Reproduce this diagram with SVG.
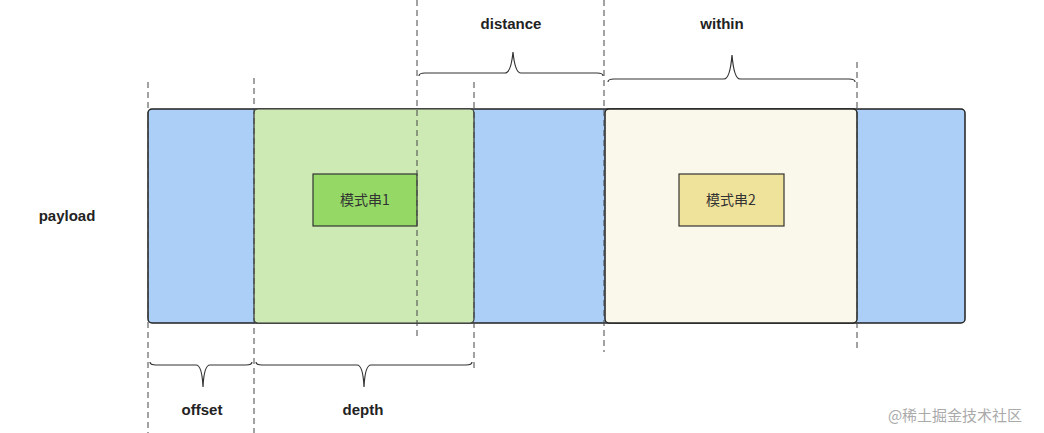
<svg xmlns="http://www.w3.org/2000/svg" width="1044" height="433" viewBox="0 0 1044 433">
<style>
.lbl{font-family:"Liberation Sans",Arial,sans-serif;font-size:15px;font-weight:bold;fill:#222;text-anchor:middle}
.cn{font-family:"Noto Sans CJK SC",sans-serif;font-size:14px;fill:#333;text-anchor:middle}
.dash{stroke:#444;stroke-width:1;stroke-dasharray:6,4;fill:none}
.brace{stroke:#333;stroke-width:1.2;fill:none}
</style>
<rect width="1044" height="433" fill="#fff"/>
<g id="payload-bar"><rect x="148" y="109" width="817" height="214" rx="4" fill="#abcff7" stroke="#222" stroke-width="1.5"/></g>
<g id="depth-box"><rect x="254" y="109" width="220" height="214" rx="4" fill="#cdeab5" stroke="#333" stroke-width="1.2"/></g>
<g id="within-box"><rect x="605" y="109" width="252" height="214" rx="4" fill="#faf8eb" stroke="#222" stroke-width="1.5"/></g>
<g id="pattern1"><rect x="313" y="174" width="104" height="52" fill="#95d866" stroke="#333" stroke-width="1.2"/><text class="cn" x="365" y="205">模式串1</text></g>
<g id="pattern2"><rect x="679" y="174" width="105" height="52" fill="#efe29b" stroke="#333" stroke-width="1.2"/><text class="cn" x="731" y="205">模式串2</text></g>
<g id="connectors">
<line class="dash" x1="148" y1="82" x2="148" y2="433"/>
<line class="dash" x1="254" y1="78" x2="254" y2="433"/>
<line class="dash" x1="417" y1="0" x2="417" y2="340"/>
<line class="dash" x1="474" y1="82" x2="474" y2="370"/>
<line class="dash" x1="604" y1="0" x2="604" y2="352"/>
<line class="dash" x1="857" y1="62" x2="857" y2="352"/>
<path class="brace" d="M419,76 Q419,73 425,73 L505,73 Q511,73 513,52 Q515,73 521,73 L597,73 Q603,73 603,76"/>
<path class="brace" d="M608,82 Q608,79 614,79 L724,79 Q730,79 732,55 Q734,79 740,79 L849,79 Q855,79 855,82"/>
<path class="brace" d="M150,362 Q150,365 156,365 L196,365 Q202,365 203,387 Q204,365 210,365 L246,365 Q252,365 252,362"/>
<path class="brace" d="M256,362 Q256,365 262,365 L357,365 Q363,365 364,387 Q365,365 371,365 L466,365 Q472,365 472,362"/>
</g>
<text class="lbl" x="511" y="29">distance</text>
<text class="lbl" x="722" y="29">within</text>
<text class="lbl" x="67" y="221">payload</text>
<text class="lbl" x="202" y="415">offset</text>
<text class="lbl" x="363" y="415">depth</text>
<text x="955" y="421" font-family="Noto Sans CJK SC,sans-serif" font-size="15" fill="#aaa" text-anchor="middle">@稀土掘金技术社区</text>
</svg>
